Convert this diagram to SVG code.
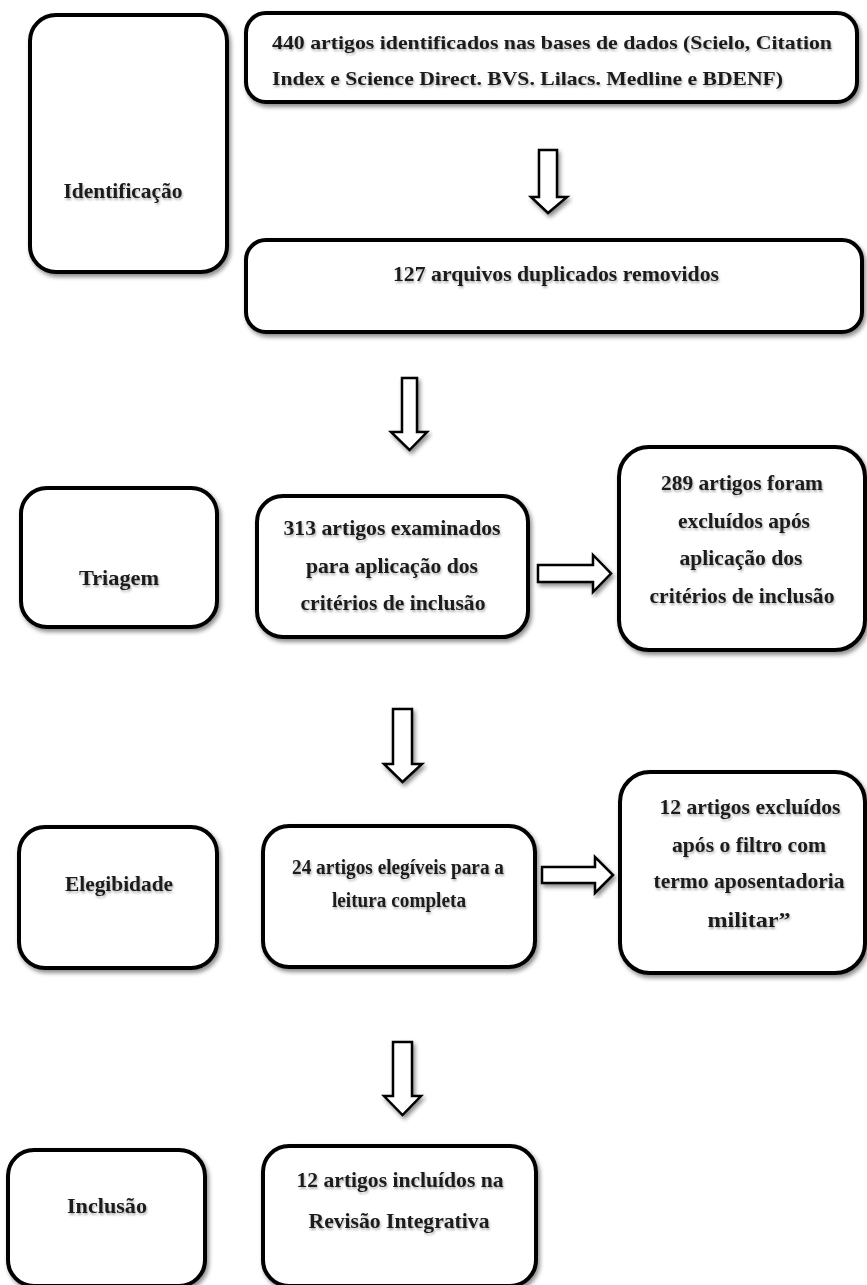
<svg xmlns="http://www.w3.org/2000/svg" width="867" height="1285" viewBox="0 0 867 1285">
<defs>
<filter id="sh" x="-10%" y="-10%" width="125%" height="125%">
<feDropShadow dx="2" dy="3" stdDeviation="2" flood-color="#000" flood-opacity="0.45"/>
</filter>
<filter id="tsh" x="-5%" y="-20%" width="110%" height="150%">
<feDropShadow dx="1" dy="2" stdDeviation="1" flood-color="#000" flood-opacity="0.3"/>
</filter>
<style>
.box{fill:#fff;stroke:#000;stroke-width:4;filter:url(#sh)}
.t{font-family:"Liberation Serif","Times New Roman",serif;font-weight:bold;font-size:21px;fill:#1a1a1a;filter:url(#tsh)}
.top{font-size:19px}
.s{font-size:20px}
.arr{fill:#fff;stroke:#000;stroke-width:2.5;stroke-linejoin:miter;filter:url(#sh)}
</style>
</defs>
<rect width="867" height="1285" fill="#fff"/>

<g id="connectors">
<path class="arr" d="M539,150 H557 V197 H567 L548,213 L531,197 H539 Z"/>
<path class="arr" d="M402,378 H417 V432 H427 L409.5,450 L391,432 H402 Z"/>
<path class="arr" d="M538,565 H593 V555 L611,573.5 L593,592 V582 H538 Z"/>
<path class="arr" d="M393,709 H412 V764 H422 L402.5,782 L384,764 H393 Z"/>
<path class="arr" d="M542,867 H595 V857 L613,875 L595,893 V883 H542 Z"/>
<path class="arr" d="M393,1042 H412 V1096 H421 L402.5,1115 L384,1096 H393 Z"/>
</g>

<g id="node-identificacao">
<rect class="box" x="30" y="15" width="197" height="257" rx="26"/>
<text class="t" x="123" y="198" text-anchor="middle" textLength="119" lengthAdjust="spacingAndGlyphs">Identificação</text>
</g>

<g id="node-440">
<rect class="box" x="246" y="13" width="611" height="89" rx="20"/>
<text class="t top" x="272" y="49" textLength="560" lengthAdjust="spacingAndGlyphs">440 artigos identificados nas bases de dados (Scielo, Citation</text>
<text class="t top" x="272" y="85" textLength="511" lengthAdjust="spacingAndGlyphs">Index e Science Direct. BVS. Lilacs. Medline e BDENF)</text>
</g>

<g id="node-127">
<rect class="box" x="246" y="240" width="616" height="92" rx="20"/>
<text class="t" x="556" y="281" text-anchor="middle" textLength="326" lengthAdjust="spacingAndGlyphs">127 arquivos duplicados removidos</text>
</g>

<g id="node-triagem">
<rect class="box" x="21" y="488" width="196" height="139" rx="26"/>
<text class="t" x="119" y="585" text-anchor="middle" textLength="80" lengthAdjust="spacingAndGlyphs">Triagem</text>
</g>

<g id="node-313">
<rect class="box" x="257" y="496" width="271" height="141" rx="26"/>
<text class="t" x="392" y="535" text-anchor="middle" textLength="217" lengthAdjust="spacingAndGlyphs">313 artigos examinados</text>
<text class="t" x="392" y="573" text-anchor="middle" textLength="172" lengthAdjust="spacingAndGlyphs">para aplicação dos</text>
<text class="t" x="393" y="610" text-anchor="middle" textLength="185" lengthAdjust="spacingAndGlyphs">critérios de inclusão</text>
</g>

<g id="node-289">
<rect class="box" x="619" y="447" width="246" height="203" rx="30"/>
<text class="t" x="742" y="490" text-anchor="middle" textLength="162" lengthAdjust="spacingAndGlyphs">289 artigos foram</text>
<text class="t" x="744" y="528" text-anchor="middle" textLength="132" lengthAdjust="spacingAndGlyphs">excluídos após</text>
<text class="t" x="741" y="565" text-anchor="middle" textLength="123" lengthAdjust="spacingAndGlyphs">aplicação dos</text>
<text class="t" x="742" y="603" text-anchor="middle" textLength="185" lengthAdjust="spacingAndGlyphs">critérios de inclusão</text>
</g>

<g id="node-elegibidade">
<rect class="box" x="19" y="827" width="198" height="141" rx="26"/>
<text class="t" x="119" y="891" text-anchor="middle" textLength="108" lengthAdjust="spacingAndGlyphs">Elegibidade</text>
</g>

<g id="node-24">
<rect class="box" x="263" y="826" width="272" height="141" rx="26"/>
<text class="t s" x="398" y="874" text-anchor="middle" textLength="212" lengthAdjust="spacingAndGlyphs">24 artigos elegíveis para a</text>
<text class="t s" x="399" y="907" text-anchor="middle" textLength="134" lengthAdjust="spacingAndGlyphs">leitura completa</text>
</g>

<g id="node-12excluidos">
<rect class="box" x="620" y="772" width="245" height="201" rx="30"/>
<text class="t" x="750" y="814" text-anchor="middle" textLength="181" lengthAdjust="spacingAndGlyphs">12 artigos excluídos</text>
<text class="t" x="749" y="852" text-anchor="middle" textLength="154" lengthAdjust="spacingAndGlyphs">após o filtro com</text>
<text class="t" x="749" y="888" text-anchor="middle" textLength="191" lengthAdjust="spacingAndGlyphs">termo aposentadoria</text>
<text class="t" x="749" y="927" text-anchor="middle" textLength="83" lengthAdjust="spacingAndGlyphs">militar”</text>
</g>

<g id="node-inclusao">
<rect class="box" x="8" y="1150" width="197" height="136" rx="26"/>
<text class="t" x="107" y="1213" text-anchor="middle" textLength="80" lengthAdjust="spacingAndGlyphs">Inclusão</text>
</g>

<g id="node-12incluidos">
<rect class="box" x="263" y="1146" width="273" height="140" rx="26"/>
<text class="t" x="400" y="1187" text-anchor="middle" textLength="207" lengthAdjust="spacingAndGlyphs">12 artigos incluídos na</text>
<text class="t" x="399" y="1228" text-anchor="middle" textLength="181" lengthAdjust="spacingAndGlyphs">Revisão Integrativa</text>
</g>
</svg>
